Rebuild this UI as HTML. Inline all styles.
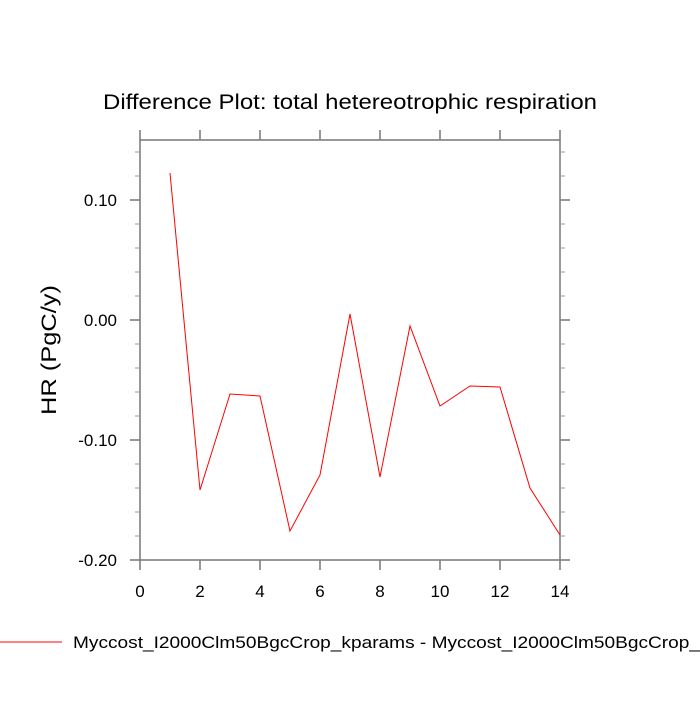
<!DOCTYPE html>
<html><head><style>body{margin:0;background:#fff}</style></head><body>
<svg width="700" height="700" xmlns="http://www.w3.org/2000/svg" font-family="Liberation Sans, sans-serif">
<rect width="700" height="700" fill="#fff"/>
<text x="103" y="109" font-size="21" textLength="494" lengthAdjust="spacingAndGlyphs">Difference Plot: total hetereotrophic respiration</text>
<g stroke="#777" stroke-width="1.5" fill="none">
<rect x="140" y="140" width="420" height="420"/>
<path d="M140 560v10M200 560v10M260 560v10M320 560v10M380 560v10M440 560v10M500 560v10M560 560v10
M140 140v-10M200 140v-10M260 140v-10M320 140v-10M380 140v-10M440 140v-10M500 140v-10M560 140v-10
M140 200h-10M140 320h-10M140 440h-10M140 560h-10M560 200h10M560 320h10M560 440h10M560 560h10"/>
<path stroke-width="1" stroke="#999" d="M140 152h-5M140 176h-5M140 224h-5M140 248h-5M140 272h-5M140 296h-5M140 344h-5M140 368h-5M140 392h-5M140 416h-5M140 464h-5M140 488h-5M140 512h-5M140 536h-5
M560 152h5M560 176h5M560 224h5M560 248h5M560 272h5M560 296h5M560 344h5M560 368h5M560 392h5M560 416h5M560 464h5M560 488h5M560 512h5M560 536h5"/>
</g>
<g font-size="17" text-anchor="end">
<text x="117" y="206">0.10</text><text x="117" y="326">0.00</text><text x="117" y="446">-0.10</text><text x="117" y="566">-0.20</text>
</g>
<g font-size="17" text-anchor="middle">
<text x="140" y="597">0</text><text x="200" y="597">2</text><text x="260" y="597">4</text><text x="320" y="597">6</text><text x="380" y="597">8</text><text x="440" y="597">10</text><text x="500" y="597">12</text><text x="560" y="597">14</text>
</g>
<text transform="translate(56,350) rotate(-90)" x="-65" font-size="21" textLength="130" lengthAdjust="spacingAndGlyphs">HR  (PgC/y)</text>
<polyline fill="none" stroke="red" stroke-width="1" points="170,173 200,490 230,394 260,396 290,531 320,475 350,314 380,477 410,326 440,406 470,386 500,387 530,488 560,535"/>
<line x1="0" y1="642" x2="62" y2="642" stroke="red" stroke-width="1"/>
<text x="73" y="648" font-size="17" textLength="627" lengthAdjust="spacingAndGlyphs">Myccost_I2000Clm50BgcCrop_kparams - Myccost_I2000Clm50BgcCrop_</text>
</svg>
</body></html>
